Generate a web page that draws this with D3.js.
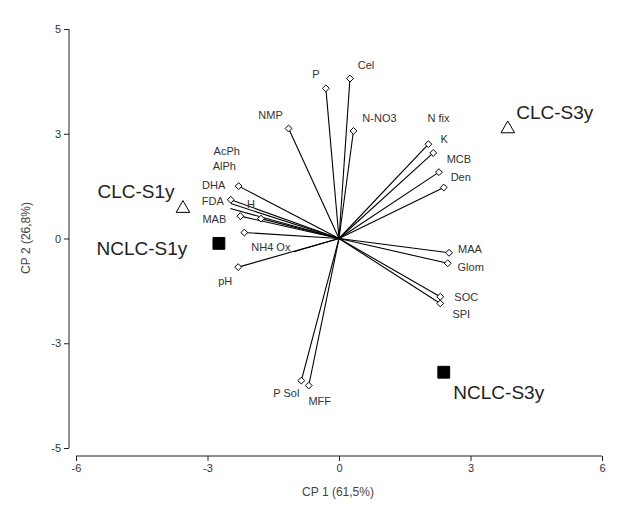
<!DOCTYPE html>
<html><head><meta charset="utf-8">
<script src="https://cdn.jsdelivr.net/npm/d3@7"></script>
<style>body{margin:0;background:#fff}text{font-family:Arial,"Liberation Sans",sans-serif}</style>
</head><body><svg id="c" width="620" height="516"></svg>
<script>
// Variable loadings (CP1, CP2)
const varNames = ["P","Cel","NMP","N-NO3","N fix","K","MCB","Den","DHA","FDA","AcPh","AlPh","H","MAB","","NH4 Ox","pH","MAA","Glom","SOC","SPI","P Sol","MFF"];
const varX = [-0.30,0.25,-1.15,0.33,2.04,2.15,2.28,2.39,-2.29,-2.47,-2.47,-2.48,-1.78,-2.25,-2.16,-1.03,-2.30,2.51,2.48,2.31,2.31,-0.86,-0.69];
const varY = [4.30,4.58,3.15,3.08,2.70,2.45,1.90,1.46,1.50,1.11,1.00,0.86,0.57,0.64,0.17,-0.38,-0.82,-0.41,-0.71,-1.67,-1.86,-4.07,-4.21];
const varMarker = [1,1,1,1,1,1,1,1,1,1,0,0,1,1,1,0,1,1,1,1,1,1,1];
// label offsets (px), styling only
const labDX = [-10,16,-18,26,10,11,20,17,-25,-18,-4,-6,-10,-26,0,-23,-13,21,23,26,21,-15,11];
const labDY = [-14,-13,-13,-13,-26,-14,-13,-10,-1,1,-52,-42,-14,3,0,-5,14,-4,4,0,11,13,16];
// Samples
const sampleNames = ["CLC-S1y","NCLC-S1y","CLC-S3y","NCLC-S3y"];
const sampleX = [-3.56,-2.74,3.85,2.39];
const sampleY = [0.86,-0.14,3.14,-3.83];
const sampleShape = ["tri","sq","tri","sq"];
const sDX = [-47,-77,47,55], sDY = [-17,5,-17,20];
// ticks
const xTicks = [-6,-3,0,3,6];
const yTickVals = [-6,-3,0,3,6];
const yTickLabels = ["-5","-3","0","3","5"];

const svg = d3.select("#c");
const x = d3.scaleLinear([-6,6],[76,602]);
const y = d3.scaleLinear([-6,6],[448,29]);

const xa = svg.append("g").attr("transform","translate(0,456)")
  .call(d3.axisBottom(x).tickValues(xTicks).tickSize(5).tickFormat(d=>d));
const ya = svg.append("g").attr("transform","translate(69,0)")
  .call(d3.axisLeft(y).tickValues(yTickVals).tickSize(5).tickFormat((d,i)=>yTickLabels[i]));
[xa,ya].forEach(a=>{a.selectAll("path,line").attr("stroke","#222");a.selectAll("text").attr("font-size",11).attr("fill","#333");});
xa.select(".domain").attr("d","M76,0H602");
ya.select(".domain").attr("d","M0,29V448");

svg.append("text").attr("x",338).attr("y",496).attr("text-anchor","middle").attr("font-size",12).attr("fill","#444").text("CP 1 (61,5%)");
svg.append("text").attr("transform","translate(30,238) rotate(-90)").attr("text-anchor","middle").attr("font-size",12).attr("fill","#444").text("CP 2 (26,8%)");

const vars = varNames.map((n,i)=>({n,x:varX[i],y:varY[i],m:varMarker[i],dx:labDX[i],dy:labDY[i]}));
svg.append("g").selectAll("line").data(vars).join("line")
  .attr("x1",x(0)).attr("y1",y(0)).attr("x2",d=>x(d.x)).attr("y2",d=>y(d.y))
  .attr("stroke","#000").attr("stroke-width",1.1);
svg.append("g").selectAll("path").data(vars.filter(d=>d.m)).join("path")
  .attr("d",d3.symbol(d3.symbolDiamond2 ? d3.symbolDiamond2 : d3.symbolDiamond,30))
  .attr("transform",d=>`translate(${x(d.x)},${y(d.y)})`)
  .attr("fill","#fff").attr("stroke","#000").attr("stroke-width",1);
svg.append("g").selectAll("text").data(vars.filter(d=>d.n)).join("text")
  .attr("x",d=>x(d.x)+d.dx).attr("y",d=>y(d.y)+d.dy).attr("dy","0.35em")
  .attr("text-anchor","middle").attr("font-size",11).attr("fill","#333").text(d=>d.n);

const samples = sampleNames.map((n,i)=>({n,x:sampleX[i],y:sampleY[i],s:sampleShape[i],dx:sDX[i],dy:sDY[i]}));
svg.append("g").selectAll("path").data(samples).join("path")
  .attr("d",d=>d.s==="tri"?d3.symbol(d3.symbolTriangle,80)():d3.symbol(d3.symbolSquare,140)())
  .attr("transform",d=>`translate(${x(d.x)},${y(d.y)})`)
  .attr("fill",d=>d.s==="tri"?"#fff":"#000").attr("stroke","#000").attr("stroke-width",1);
svg.append("g").selectAll("text").data(samples).join("text")
  .attr("x",d=>x(d.x)+d.dx).attr("y",d=>y(d.y)+d.dy).attr("dy","0.35em")
  .attr("text-anchor","middle").attr("font-size",19).attr("fill","#222").text(d=>d.n);
</script></body></html>
